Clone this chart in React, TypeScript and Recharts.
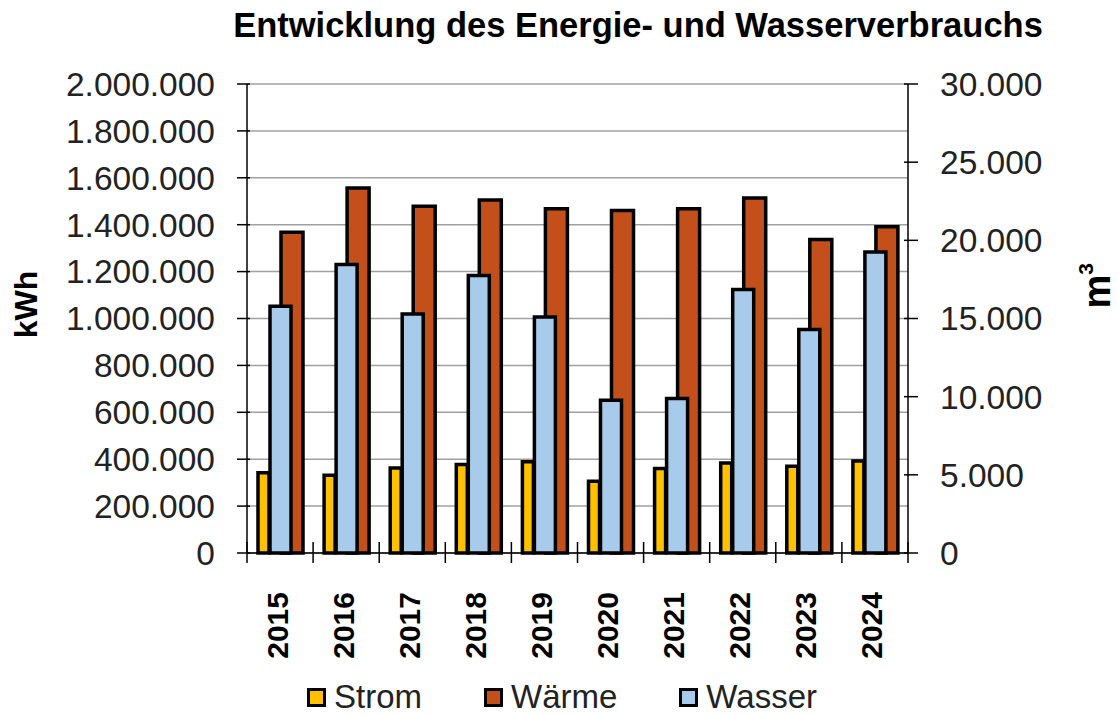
import React from "react";
import { BarChart, Bar, XAxis, YAxis, CartesianGrid, Legend } from "recharts";

const FONT = "'Liberation Sans', Arial, sans-serif";

const years = ["2015", "2016", "2017", "2018", "2019", "2020", "2021", "2022", "2023", "2024"];
// kWh
const strom = [342000, 332000, 363000, 377000, 389000, 306000, 360000, 384000, 370000, 392000];
const waerme = [1368000, 1557000, 1479000, 1505000, 1468000, 1461000, 1468000, 1514000, 1337000, 1391000];
// m³
const wasser = [15790, 18450, 15290, 17750, 15100, 9770, 9880, 16850, 14290, 19260];

const kwhTicks = [0, 200000, 400000, 600000, 800000, 1000000, 1200000, 1400000, 1600000, 1800000, 2000000];
const m3Ticks = [0, 5000, 10000, 15000, 20000, 25000, 30000];
const legendOrder = ["Strom", "Wärme", "Wasser"];

const data = years.map((year, i) => ({
  year,
  Strom: strom[i],
  Wärme: waerme[i],
  Wasser: wasser[i],
}));

const fmt = (v: number) => String(v).replace(/\B(?=(\d{3})+(?!\d))/g, ".");

const LeftTick = (props: any) => {
  const { x, y, payload } = props;
  return (
    <g>
      <line x1={x - 10} x2={x + 3} y1={y} y2={y} stroke="#000" strokeWidth={1.5} />
      <text x={x - 32} y={y} dy="0.355em" textAnchor="end" fontSize={33.5} fill="#222" fontFamily={FONT}>
        {fmt(payload.value)}
      </text>
    </g>
  );
};

const RightTick = (props: any) => {
  const { x, y, payload } = props;
  return (
    <g>
      <line x1={x - 4} x2={x + 10} y1={y} y2={y} stroke="#000" strokeWidth={1.5} />
      <text x={x + 32} y={y} dy="0.355em" textAnchor="start" fontSize={33.5} fill="#222" fontFamily={FONT}>
        {fmt(payload.value)}
      </text>
    </g>
  );
};

const YearTick = (props: any) => {
  const { x, y, payload, index, visibleTicksCount, width } = props;
  const half = width / visibleTicksCount / 2;
  const ty = y + 39;
  return (
    <g>
      <line x1={x - half} x2={x - half} y1={y - 11} y2={y + 10} stroke="#000" strokeWidth={1.5} />
      {index === visibleTicksCount - 1 && (
        <line x1={x + half} x2={x + half} y1={y - 11} y2={y + 10} stroke="#000" strokeWidth={1.5} />
      )}
      <text
        x={x}
        y={ty}
        dy="0.25em"
        transform={`rotate(-90, ${x}, ${ty})`}
        textAnchor="end"
        fontSize={30}
        fontWeight="bold"
        fill="#000"
        fontFamily={FONT}
      >
        {payload.value}
      </text>
    </g>
  );
};

const KwhLabel = (props: any) => {
  const { viewBox } = props;
  const cx = viewBox.x + 37;
  const cy = viewBox.y + viewBox.height / 2 - 14;
  return (
    <text x={cx} y={cy} transform={`rotate(-90, ${cx}, ${cy})`} textAnchor="middle" fontSize={32} fontWeight="bold" fill="#000" fontFamily={FONT}>
      kWh
    </text>
  );
};

const M3Label = (props: any) => {
  const { viewBox } = props;
  const cx = viewBox.x + 202;
  const cy = viewBox.y + viewBox.height / 2 - 10;
  return (
    <text x={cx} y={cy} transform={`rotate(-90, ${cx}, ${cy})`} textAnchor="start" fontSize={38} fontWeight="bold" fill="#000" fontFamily={FONT}>
      m
      <tspan fontSize={21} dy={-17}>3</tspan>
    </text>
  );
};

const renderLegend = (props: any) => {
  const items = [...(props.payload || [])].sort(
    (a: any, b: any) => legendOrder.indexOf(a.value) - legendOrder.indexOf(b.value)
  );
  return (
    <div
      style={{
        display: "flex",
        alignItems: "center",
        paddingLeft: 307,
        fontFamily: FONT,
        fontSize: 33,
        lineHeight: "32px",
        color: "#222",
      }}
    >
      {items.map((p: any) => (
        <div key={p.value} style={{ display: "flex", alignItems: "center", marginRight: 62 }}>
          <span
            style={{
              display: "inline-block",
              boxSizing: "border-box",
              width: 19,
              height: 19,
              background: p.color,
              border: "3px solid #000",
              marginRight: 8,
            }}
          />
          <span>{p.value}</span>
        </div>
      ))}
    </div>
  );
};

export default function App() {
  return (
    <div style={{ position: "absolute", left: 0, top: 0, width: 1118, height: 715, background: "#fff", fontFamily: FONT }}>
      <div
        style={{
          position: "absolute",
          left: 188,
          top: 8,
          width: 900,
          display: "flex",
          justifyContent: "center",
          whiteSpace: "nowrap",
          fontSize: 34.5,
          lineHeight: "34px",
          fontWeight: "bold",
          color: "#000",
        }}
      >
        Entwicklung des Energie- und Wasserverbrauchs
      </div>
      <BarChart width={1118} height={715} data={data} margin={{ top: 84, right: 0, bottom: 0, left: 0 }} barGap={12}>
        <CartesianGrid xAxisId="main" yAxisId="left" vertical={false} stroke="#a0a0a0" strokeWidth={1.5} />
        <XAxis
          xAxisId="main"
          dataKey="year"
          height={162}
          tickSize={0}
          tickMargin={0}
          tickLine={false}
          axisLine={{ stroke: "#000", strokeWidth: 1.5 }}
          tick={<YearTick />}
          interval={0}
        />
        <XAxis xAxisId="wasser" dataKey="year" hide />
        <YAxis
          yAxisId="left"
          width={247}
          domain={[0, 2000000]}
          ticks={kwhTicks}
          interval={0}
          tickSize={0}
          tickMargin={0}
          tickLine={false}
          axisLine={{ stroke: "#000", strokeWidth: 1.5 }}
          tick={<LeftTick />}
          label={<KwhLabel />}
        />
        <YAxis
          yAxisId="right"
          orientation="right"
          width={210}
          domain={[0, 30000]}
          ticks={m3Ticks}
          interval={0}
          tickSize={0}
          tickMargin={0}
          tickLine={false}
          axisLine={{ stroke: "#000", strokeWidth: 1.5 }}
          tick={<RightTick />}
          label={<M3Label />}
        />
        <Legend
          verticalAlign="middle"
          align="center"
          layout="horizontal"
          content={renderLegend}
          wrapperStyle={{ top: 681, left: 0, width: 1118 }}
        />
        <Bar xAxisId="main" yAxisId="left" dataKey="Strom" barSize={11} fill="#FFC000" stroke="#000" strokeWidth={3.5} isAnimationActive={false} />
        <Bar xAxisId="main" yAxisId="left" dataKey="Wärme" barSize={22} fill="#C3501A" stroke="#000" strokeWidth={3.5} isAnimationActive={false} />
        <Bar xAxisId="wasser" yAxisId="right" dataKey="Wasser" barSize={21} fill="#A8CBEC" stroke="#000" strokeWidth={3.5} isAnimationActive={false} />
      </BarChart>
    </div>
  );
}
